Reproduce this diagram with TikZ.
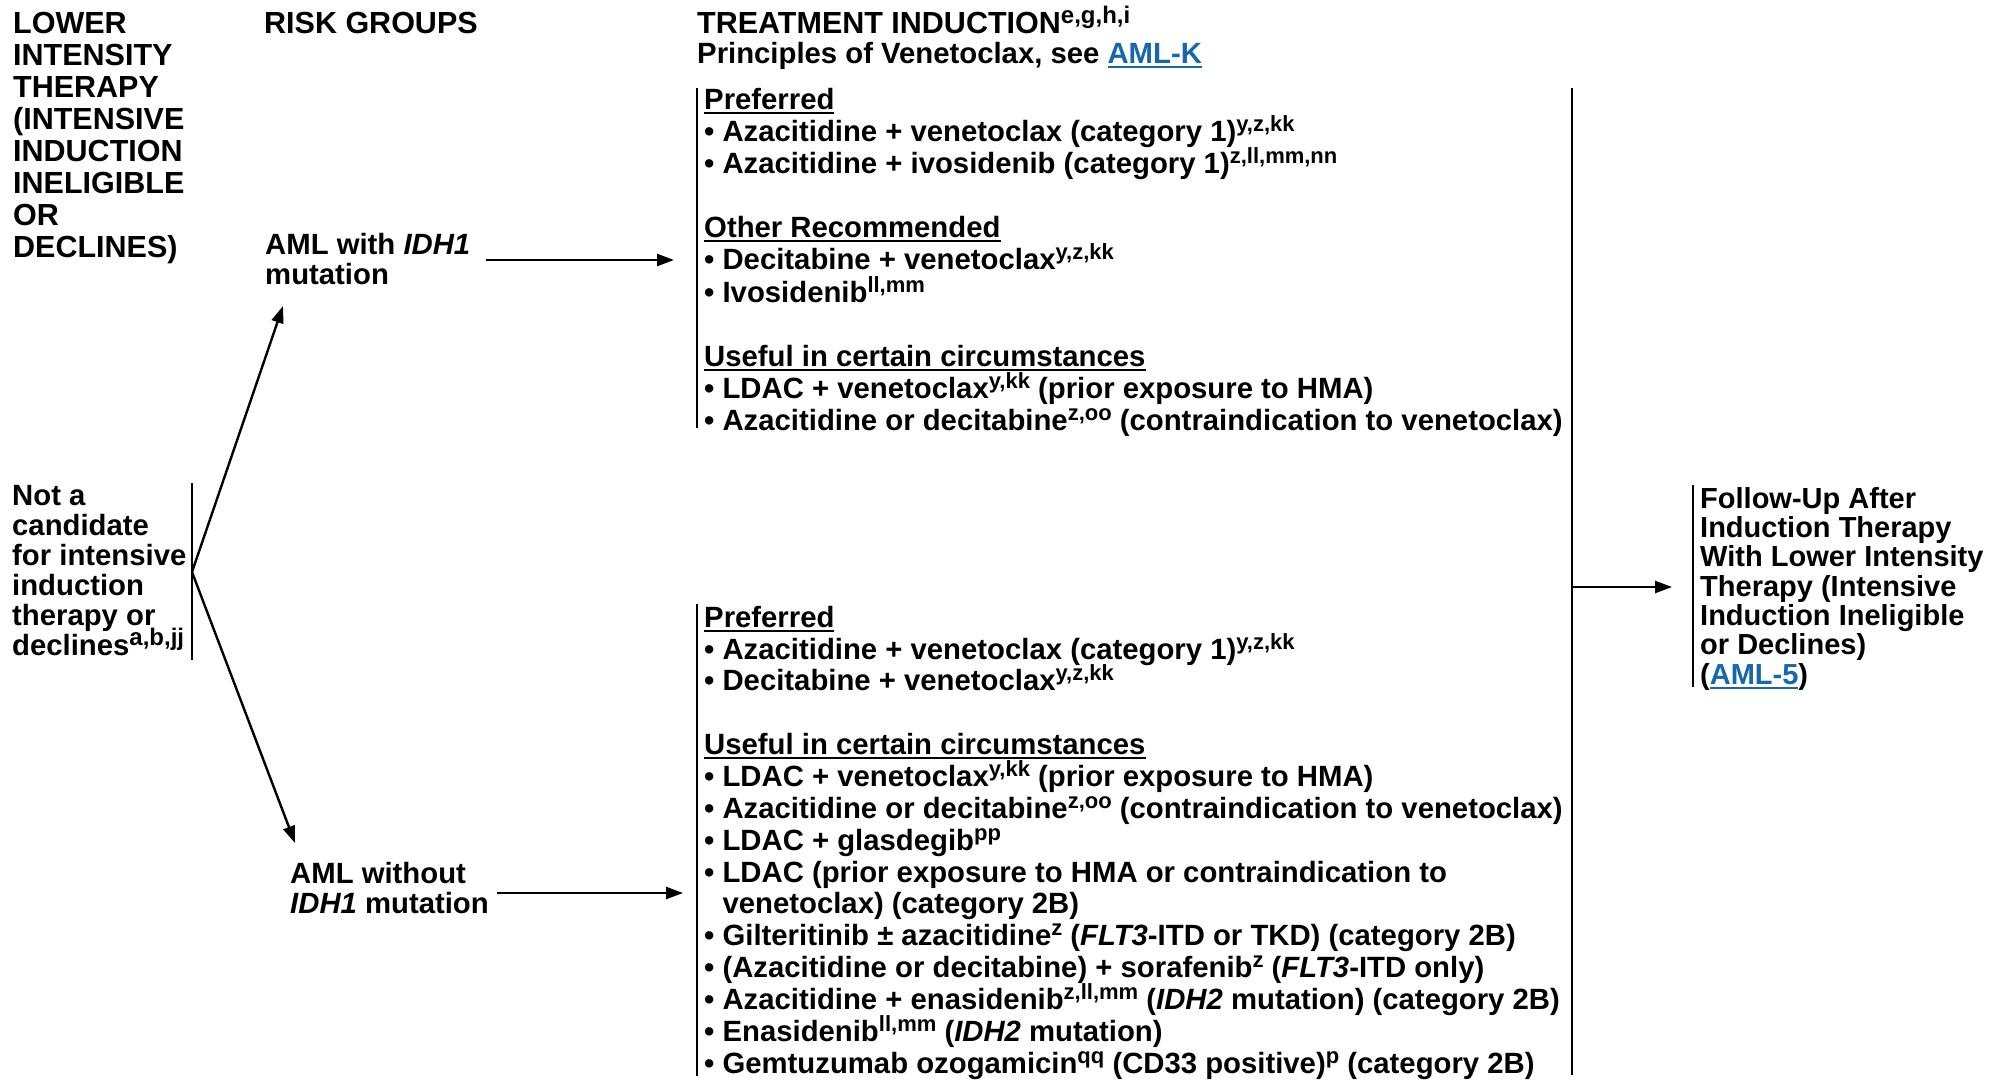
\documentclass[tikz,border=0pt]{standalone}
\usepackage{fontspec}
\setmainfont{Liberation Sans}
\usetikzlibrary{arrows.meta}
\definecolor{linkblue}{RGB}{23,103,171}

% keep baselines evenly spaced even where superscripts stick up
\lineskiplimit=-100pt

% superscript note letters
\newcommand{\sps}[2][22]{\raisebox{10pt}{\fontsize{#1}{#1}\selectfont #2}}
% underlined text with a solid bar below the baseline
\newcommand{\undl}[1]{\leavevmode\setbox0=\hbox{#1}\rlap{\rule[-4.5pt]{\wd0}{2pt}}\box0}
% cross-reference to another page
\newcommand{\lnk}[1]{\textcolor{linkblue}{\undl{#1}}}
\newcommand{\bul}{\textbullet\ }
\newcommand{\capsfont}{\fontsize{30.5}{32}\selectfont}
% first-line strut: the first baseline of every block sits 24pt below its top
\newcommand{\fl}{\rule{0pt}{24pt}}

\tikzset{
  txt/.style={font=\fontsize{29.3}{#1}\selectfont\bfseries, inner sep=0pt,
              align=left, anchor=north west},
  bar/.style={line width=2.4pt},
  conn/.style={line width=2.4pt, -{Triangle[length=17pt,width=12pt]}},
}

\begin{document}
\begin{tikzpicture}[x=1pt, y=-1pt]
\path[use as bounding box] (0,0) rectangle (1990,1080);

% column headers
\node[txt=32] (hdrL) at (13,9)
  {\capsfont\fl LOWER\\\capsfont INTENSITY\\\capsfont THERAPY\\\capsfont (INTENSIVE\\
   \capsfont INDUCTION\\\capsfont INELIGIBLE\\\capsfont OR\\\capsfont DECLINES)};
\node[txt=32] (hdrR) at (264,9) {\fl{\capsfont RISK GROUPS}};
\node[txt=30.5] (hdrT) at (697,5.5)
  {\fl{\capsfont TREATMENT INDUCTION}\sps[24]{e,g,h,i}\\Principles of Venetoclax, see \lnk{AML-K}};

% starting condition
\node[txt=30] (cand) at (12,481)
  {\fl Not a\\candidate\\for intensive\\induction\\therapy or\\declines\sps[24]{a,b,jj}};
\coordinate (candTop) at (192,483);
\coordinate (candBot) at (192,660);
\coordinate (split) at (192,572);
\draw[bar] (candTop) -- (candBot);

% risk groups
\node[txt=30] (withIDH) at (265,230) {\fl AML with \textit{IDH1}\\mutation};
\node[txt=30] (withoutIDH) at (290,859) {\fl AML without\\\textit{IDH1} mutation};
\coordinate (withTip) at (283,306);
\coordinate (withoutTip) at (295,843);
\draw[conn] (split) -- (withTip);
\draw[conn] (split) -- (withoutTip);

% treatment lists
\node[txt=32.05] (listA) at (704,85.5)
  {\fl\undl{Preferred}\\
   \bul Azacitidine + venetoclax (category 1)\sps{y,z,kk}\\
   \bul Azacitidine + ivosidenib (category 1)\sps{z,ll,mm,nn}\\[32.05pt]
   \undl{Other Recommended}\\
   \bul Decitabine + venetoclax\sps{y,z,kk}\\
   \bul Ivosidenib\sps{ll,mm}\\[32.05pt]
   \undl{Useful in certain circumstances}\\
   \bul LDAC + venetoclax\sps{y,kk} (prior exposure to HMA)\\
   \bul Azacitidine or decitabine\sps{z,oo} (contraindication to venetoclax)};
\coordinate (barAtop) at (697,88);
\coordinate (barAbot) at (697,428);
\draw[bar] (barAtop) -- (barAbot);

\node[txt=31.85] (listB) at (704,603)
  {\fl\undl{Preferred}\\
   \bul Azacitidine + venetoclax (category 1)\sps{y,z,kk}\\
   \bul Decitabine + venetoclax\sps{y,z,kk}\\[31.85pt]
   \undl{Useful in certain circumstances}\\
   \bul LDAC + venetoclax\sps{y,kk} (prior exposure to HMA)\\
   \bul Azacitidine or decitabine\sps{z,oo} (contraindication to venetoclax)\\
   \bul LDAC + glasdegib\sps{pp}\\
   \bul LDAC (prior exposure to HMA or contraindication to\\
   \phantom{\bul}venetoclax) (category 2B)\\
   \bul Gilteritinib ± azacitidine\sps{z} (\textit{FLT3}-ITD or TKD) (category 2B)\\
   \bul (Azacitidine or decitabine) + sorafenib\sps{z} (\textit{FLT3}-ITD only)\\
   \bul Azacitidine + enasidenib\sps{z,ll,mm} (\textit{IDH2} mutation) (category 2B)\\
   \bul Enasidenib\sps{ll,mm} (\textit{IDH2} mutation)\\
   \bul Gemtuzumab ozogamicin\sps{qq} (CD33 positive)\sps{p} (category 2B)};
\coordinate (barBtop) at (697,604);
\coordinate (barBbot) at (697,1076);
\draw[bar] (barBtop) -- (barBbot);

\coordinate (withStart) at (486,260);
\coordinate (withEnd) at (674,260);
\coordinate (withoutStart) at (497,893);
\coordinate (withoutEnd) at (683,893);
\draw[conn] (withStart) -- (withEnd);
\draw[conn] (withoutStart) -- (withoutEnd);

% collector and follow-up
\coordinate (collTop) at (1572,88);
\coordinate (collBot) at (1572,1075);
\coordinate (collMid) at (1572,587);
\coordinate (followTip) at (1672,587);
\draw[bar] (collTop) -- (collBot);
\draw[conn] (collMid) -- (followTip);

\node[txt=29.3, font=\fontsize{29}{29.3}\selectfont\bfseries] (follow) at (1700,484)
  {\fl Follow-Up After\\Induction Therapy\\With Lower Intensity\\Therapy (Intensive\\Induction Ineligible\\or Declines)\\(\lnk{AML-5})};
\coordinate (folTop) at (1693,485);
\coordinate (folBot) at (1693,687);
\draw[bar] (folTop) -- (folBot);
\end{tikzpicture}
\end{document}
